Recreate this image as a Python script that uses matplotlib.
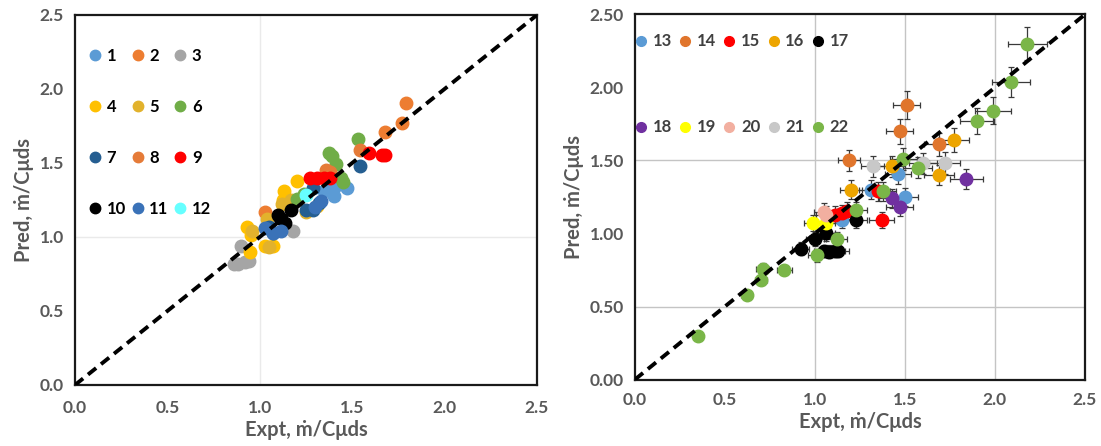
import matplotlib
matplotlib.use("Agg")
import matplotlib.pyplot as plt
from matplotlib.lines import Line2D
from matplotlib.ticker import FormatStrFormatter, MultipleLocator

plt.rcParams['font.family'] = ['Lato', 'DejaVu Sans']
plt.rcParams['lines.scale_dashes'] = False

# ---------------- left panel: data sets 1-12 ----------------
expt_1 = [1.385, 1.35, 1.42, 1.45, 1.40, 1.47]
pred_1 = [1.33, 1.31, 1.35, 1.36, 1.28, 1.33]
expt_2 = [1.79, 1.77, 1.68, 1.03]
pred_2 = [1.905, 1.77, 1.71, 1.17]
expt_3 = [0.90, 0.88, 0.94, 0.86, 1.18, 0.92]
pred_3 = [0.94, 0.82, 0.835, 0.82, 1.04, 0.83]
expt_4 = [1.20, 1.13, 1.125, 0.93, 0.954, 1.026, 1.07, 0.945, 1.31]
pred_4 = [1.375, 1.31, 1.25, 1.07, 1.015, 0.94, 0.94, 0.90, 1.21]
expt_5 = [1.12, 1.04, 0.96, 1.05, 1.25, 1.17]
pred_5 = [1.22, 1.12, 1.04, 0.93, 1.17, 1.25]
expt_6 = [1.376, 1.53, 1.39, 1.44, 1.41, 1.45, 1.20, 1.24]
pred_6 = [1.567, 1.66, 1.55, 1.40, 1.49, 1.37, 1.26, 1.29]
expt_7 = [1.54, 1.29, 1.32, 1.29, 1.25, 1.05, 1.07]
pred_7 = [1.48, 1.33, 1.23, 1.18, 1.18, 1.07, 1.03]
expt_8 = [1.54, 1.36, 1.38]
pred_8 = [1.59, 1.455, 1.44]
expt_9 = [1.59, 1.66, 1.68, 1.27, 1.31, 1.35, 1.38]
pred_9 = [1.57, 1.556, 1.553, 1.40, 1.40, 1.40, 1.40]
expt_10 = [1.107, 1.17, 1.134, 1.10]
pred_10 = [1.13, 1.18, 1.095, 1.15]
expt_11 = [1.026, 1.07, 1.116, 1.33, 1.30]
pred_11 = [1.06, 1.03, 1.04, 1.24, 1.20]
expt_12 = [1.25]
pred_12 = [1.286]

left_labels = ['1', '2', '3', '4', '5', '6', '7', '8', '9', '10', '11', '12']

# ---------------- right panel: data sets 13-22 ----------------
expt_13 = [1.46, 1.50, 1.31, 1.15]
pred_13 = [1.41, 1.25, 1.30, 1.09]
expt_14 = [1.51, 1.47, 1.69, 1.19]
pred_14 = [1.88, 1.70, 1.61, 1.50]
expt_15 = [1.35, 1.37, 1.11, 1.15, 1.18]
pred_15 = [1.29, 1.09, 1.13, 1.14, 1.155]
expt_16 = [1.77, 1.43, 1.69, 1.20]
pred_16 = [1.64, 1.46, 1.40, 1.30]
expt_17 = [1.23, 1.06, 1.00, 0.92, 1.05, 1.08, 1.11, 1.13]
pred_17 = [1.09, 1.00, 0.96, 0.895, 0.88, 0.875, 0.88, 0.88]
expt_18 = [1.84, 1.43, 1.47]
pred_18 = [1.37, 1.24, 1.18]
expt_19 = [0.99, 1.06]
pred_19 = [1.07, 1.07]
expt_20 = [1.05, 1.06]
pred_20 = [1.15, 1.13]
expt_21 = [1.32, 1.60, 1.72]
pred_21 = [1.46, 1.48, 1.485]
expt_22 = [2.18, 2.09, 1.99, 1.90, 1.49, 1.57, 1.38, 1.23, 1.12, 1.01,
           0.71, 0.83, 0.70, 0.62, 0.35]
pred_22 = [2.30, 2.04, 1.84, 1.77, 1.51, 1.45, 1.29, 1.16, 0.96, 0.85,
           0.76, 0.75, 0.68, 0.58, 0.30]

right_labels = ['13', '14', '15', '16', '17', '18', '19', '20', '21', '22']

# relative uncertainty of the measured and predicted values (right panel)
rel_err_expt = 0.05
rel_err_pred = 0.05

# ---------------- styling ----------------
left_colors = ['#5B9BD5', '#ED7D31', '#A5A5A5', '#FFC000', '#E2B22C', '#70AD47',
               '#255E91', '#E57B38', '#FF0000', '#000000', '#3A72B8', '#66FFFF']
right_colors = ['#5B9BD5', '#E0752C', '#FF0000', '#EDA500', '#000000',
                '#7030A0', '#FFFF00', '#F2AFA0', '#C8C8C8', '#7AB648']

left_data = [(expt_1, pred_1), (expt_2, pred_2), (expt_3, pred_3), (expt_4, pred_4),
             (expt_5, pred_5), (expt_6, pred_6), (expt_7, pred_7), (expt_8, pred_8),
             (expt_9, pred_9), (expt_10, pred_10), (expt_11, pred_11), (expt_12, pred_12)]
right_data = [(expt_13, pred_13), (expt_14, pred_14), (expt_15, pred_15),
              (expt_16, pred_16), (expt_17, pred_17), (expt_18, pred_18),
              (expt_19, pred_19), (expt_20, pred_20), (expt_21, pred_21),
              (expt_22, pred_22)]

tick_color = '#595959'
label_kw = dict(fontsize=14.5, fontweight='bold', color=tick_color)

fig = plt.figure(figsize=(11.01, 4.46), dpi=100)
ax_l = fig.add_axes([0.0681, 0.1368, 0.4196, 0.8296])
ax_r = fig.add_axes([0.5767, 0.1491, 0.4087, 0.8184])

MS = 9.0


def style_axes(ax, yfmt, xpad):
    ax.set_xlim(0, 2.5)
    ax.set_ylim(0, 2.5)
    ax.xaxis.set_major_locator(MultipleLocator(0.5))
    ax.yaxis.set_major_locator(MultipleLocator(0.5))
    ax.xaxis.set_major_formatter(FormatStrFormatter('%.1f'))
    ax.yaxis.set_major_formatter(FormatStrFormatter(yfmt))
    ax.tick_params(axis='both', length=0, labelsize=12.5, labelcolor=tick_color)
    ax.tick_params(axis='x', pad=xpad)
    ax.tick_params(axis='y', pad=8)
    for lab in ax.get_xticklabels() + ax.get_yticklabels():
        lab.set_fontweight('bold')
    for sp in ax.spines.values():
        sp.set_color('#1a1a1a')
        sp.set_linewidth(1.6)
    ax.set_xlabel('Expt, ṁ/Cμds', labelpad=3, **label_kw)
    ax.set_ylabel('Pred, ṁ/Cμds', labelpad=4, **label_kw)


def one_to_one(ax):
    ax.plot([0, 2.5], [0, 2.5], color='black', lw=2.8, dashes=(7.5, 4.5),
            zorder=10, solid_capstyle='butt', dash_capstyle='butt')


# ---- left panel ----
style_axes(ax_l, '%.1f', 11)
ax_l.axvline(1.0, color='#EAEAEA', lw=1.0, zorder=0)
ax_l.axhline(1.0, color='#EAEAEA', lw=1.0, zorder=0)
for (xs, ys), c in zip(left_data, left_colors):
    ax_l.plot(xs, ys, 'o', ms=MS, color=c, mec=c, zorder=3)
one_to_one(ax_l)

left_handles = [Line2D([], [], ls='none', marker='o', ms=7.5, color=c, mec=c)
                for c in left_colors]
order_l = [0, 3, 6, 9, 1, 4, 7, 10, 2, 5, 8, 11]
leg_l = ax_l.legend([left_handles[i] for i in order_l],
                    [left_labels[i] for i in order_l],
                    ncol=3, loc='upper left', bbox_to_anchor=(0.029, 0.911),
                    frameon=False, borderpad=0, borderaxespad=0,
                    handlelength=0.8, handletextpad=0.3, columnspacing=0.3,
                    labelspacing=2.1,
                    prop=dict(size=12, weight='bold'))
for t in leg_l.get_texts():
    t.set_color('#000000')

# ---- right panel ----
style_axes(ax_r, '%.2f', 9)
for v in (1.0, 1.5, 2.0):
    ax_r.axvline(v, color='#C4C4C4', lw=1.0, zorder=0)
for v in (0.5, 1.5):
    ax_r.axhline(v, color='#C4C4C4', lw=1.0, zorder=0)
for (xs, ys), c in zip(right_data, right_colors):
    xerr = [rel_err_expt * x for x in xs]
    yerr = [rel_err_pred * y for y in ys]
    ax_r.errorbar(xs, ys, xerr=xerr, yerr=yerr, fmt='o', ms=MS, color=c, mec=c,
                  ecolor='#3a3a3a', elinewidth=0.9, capsize=2, capthick=0.9,
                  zorder=3)
one_to_one(ax_r)

right_handles = [Line2D([], [], ls='none', marker='o', ms=7, color=c, mec=c)
                 for c in right_colors]
order_r = [0, 5, 1, 6, 2, 7, 3, 8, 4, 9]
leg_r = ax_r.legend([right_handles[i] for i in order_r],
                    [right_labels[i] for i in order_r],
                    ncol=5, loc='upper left', bbox_to_anchor=(-0.002, 0.948),
                    frameon=False, borderpad=0, borderaxespad=0,
                    handlelength=0.8, handletextpad=0.3, columnspacing=0.4,
                    labelspacing=4.2,
                    prop=dict(size=12, weight='bold'))
for t in leg_r.get_texts():
    t.set_color('#404040')

fig.savefig('out.png', dpi=100, facecolor='white')
